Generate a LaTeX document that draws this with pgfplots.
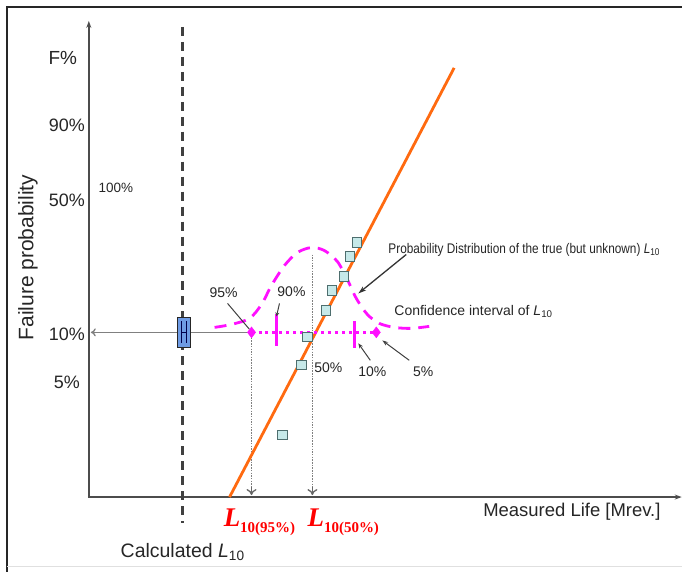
\documentclass[border=0pt]{standalone}
\usepackage{pgfplots}
\pgfplotsset{compat=1.18}
\usetikzlibrary{arrows.meta}
\usepackage{fontspec}
\setmainfont{Liberation Sans}
\newfontfamily\seriffont{Liberation Serif}
\definecolor{orng}{HTML}{FF6A10}
\definecolor{mag}{HTML}{FF10FF}
\definecolor{sqfill}{HTML}{C6E9E9}
\definecolor{sqdraw}{HTML}{4E6E6E}
\definecolor{boxblue}{HTML}{6E9BE4}
\definecolor{txt}{HTML}{262626}
\definecolor{gline}{HTML}{808080}
\begin{document}
\begin{tikzpicture}
\begin{axis}[
  scale only axis, width=683bp, height=573bp,
  xmin=0, xmax=683, ymin=0, ymax=573, y dir=reverse,
  axis lines=none, clip=false,
]
% background and frame
\addplot[fill=white, draw=none] coordinates {(0,0)(683,0)(683,573)(0,573)(0,0)};
\addplot[draw=black!85, line width=2.6bp] coordinates {(7,573)(7,7)(683,7)};
\addplot[draw=black!12, line width=0.8bp] coordinates {(7,567)(683,567)};
% axes
\addplot[draw=black!70, line width=2.2bp, -{Stealth[length=7bp,width=5bp]}] coordinates {(89,498)(89,21)};
\addplot[draw=black!70, line width=2.2bp, -{Stealth[length=7bp,width=5bp]}] coordinates {(88,498)(683,498)};
% calculated L10 dashed
\addplot[draw=black!75, line width=2.4bp, dash pattern=on 9bp off 6bp] coordinates {(183,27)(183,524)};
% grey horizontal line to y axis
\addplot[draw=gline, line width=1.3bp, -{To[length=5bp,width=8bp]}] coordinates {(252,333)(91,333)};
% grey dotted verticals
\addplot[draw=gline, line width=1.5bp, dash pattern=on 1.5bp off 1.2bp] coordinates {(252,333)(252,494)};
\addplot[draw=gline, line width=1.5bp, dash pattern=on 1.5bp off 1.2bp] coordinates {(313,255)(313,494)};
\addplot[draw=black!60, line width=1.3bp, -{To[length=6bp,width=10bp]}] coordinates {(252,488)(252,496)};
\addplot[draw=black!60, line width=1.3bp, -{To[length=6bp,width=10bp]}] coordinates {(313,488)(313,496)};
% orange fitted line
\addplot[draw=orng, line width=2.8bp] coordinates {(230,498)(455,68)};
% magenta bell curve
\addplot[draw=mag, line width=2.8bp, dash pattern=on 12bp off 8bp, smooth] coordinates {
 (215,328)(232,325)(250,319)(262,305)(272,286)(285,266)(298,253)(312,248)(325,251)(338,262)(348,280)(357,299)(368,315)(380,324)(395,328)(412,329)(430,327)};
% magenta confidence interval
\addplot[draw=mag, line width=3.4bp, dash pattern=on 3bp off 4bp] coordinates {(252,333)(377,333)};
\addplot[draw=mag, line width=2.8bp] coordinates {(277,315)(277,347)};
\addplot[draw=mag, line width=2.8bp] coordinates {(355,322)(355,349)};
\addplot[only marks, mark=diamond*, mark size=5.5bp, color=mag] coordinates {(252,333)(377,333)};
% blue box
\addplot[fill=boxblue, draw=black!85, line width=1.5bp] coordinates {(178,318)(191,318)(191,348)(178,348)(178,318)};
\addplot[draw=black!70!blue, line width=0.9bp] coordinates {(182,322)(182,344)};
\addplot[draw=black!70!blue, line width=0.9bp] coordinates {(187,322)(187,344)};
\addplot[draw=black!70!blue, line width=0.9bp] coordinates {(182,333)(187,333)};
% data squares
\addplot[only marks, mark=square*, mark size=4.6bp, mark options={fill=sqfill, draw=sqdraw, line width=1bp}] coordinates {
 (358,243)(351,257)(345,277)(333,291)(327,311)(308,338)(302,366)(283,436)};
% annotation arrows
\addplot[draw=black!75, line width=1bp] coordinates {(228,304)(250,330)};
\addplot[draw=black!75, line width=1bp, -{Stealth[length=4bp,width=4bp]}] coordinates {(280,304)(277,317)};
\addplot[draw=black!80, line width=1.3bp, -{Stealth[length=8bp,width=5bp]}] coordinates {(407,255)(359,294)};
\addplot[draw=black!75, line width=1bp, -{Stealth[length=5bp,width=4bp]}] coordinates {(371,361)(359,344)};
\addplot[draw=black!75, line width=1bp, -{Stealth[length=6bp,width=4bp]}] coordinates {(410,361)(383,341)};
% texts
\node[txt, font=\fontsize{19bp}{21bp}\selectfont] at (axis cs:63,58) {F\%};
\node[txt, font=\fontsize{18bp}{21bp}\selectfont] at (axis cs:67,126) {90\%};
\node[txt, font=\fontsize{18bp}{21bp}\selectfont] at (axis cs:67,201) {50\%};
\node[txt, font=\fontsize{18bp}{21bp}\selectfont] at (axis cs:67,335) {10\%};
\node[txt, font=\fontsize{18bp}{21bp}\selectfont] at (axis cs:67,383) {5\%};
\node[txt, font=\fontsize{13.5bp}{15bp}\selectfont] at (axis cs:116,188) {100\%};
\node[txt, rotate=90, font=\fontsize{21bp}{23bp}\selectfont] at (axis cs:28,258) {Failure probability};
\node[txt, font=\fontsize{18.5bp}{21bp}\selectfont] at (axis cs:573,513) {Measured Life [Mrev.]};
\node[txt, font=\fontsize{19.5bp}{21bp}\selectfont] at (axis cs:183,553) {Calculated \textit{L}\textsubscript{10}};
\node[txt, font=\fontsize{14bp}{16bp}\selectfont] at (axis cs:224,293) {95\%};
\node[txt, font=\fontsize{14bp}{16bp}\selectfont] at (axis cs:292,292) {90\%};
\node[txt, font=\fontsize{14bp}{16bp}\selectfont] at (axis cs:329,368) {50\%};
\node[txt, font=\fontsize{14bp}{16bp}\selectfont] at (axis cs:373,372) {10\%};
\node[txt, font=\fontsize{14bp}{16bp}\selectfont] at (axis cs:424,372) {5\%};
\node[txt, anchor=west, inner sep=0pt, font=\fontsize{14bp}{16bp}\selectfont] at (axis cs:389,250) {\scalebox{0.845}[1]{Probability Distribution of the true (but unknown) \textit{L}\textsubscript{10}}};
\node[txt, anchor=west, inner sep=0pt, font=\fontsize{14bp}{16bp}\selectfont] at (axis cs:395,312) {Confidence interval of \textit{L}\textsubscript{10}};
\node[red, anchor=west, inner sep=0pt] at (axis cs:224,523) {\seriffont\bfseries\itshape\fontsize{27bp}{28bp}\selectfont L\raisebox{-6bp}{\upshape\fontsize{15bp}{16bp}\selectfont 10(95\%)}};
\node[red, anchor=west, inner sep=0pt] at (axis cs:308,523) {\seriffont\bfseries\itshape\fontsize{27bp}{28bp}\selectfont L\raisebox{-6bp}{\upshape\fontsize{15bp}{16bp}\selectfont 10(50\%)}};
\end{axis}
\end{tikzpicture}
\end{document}
